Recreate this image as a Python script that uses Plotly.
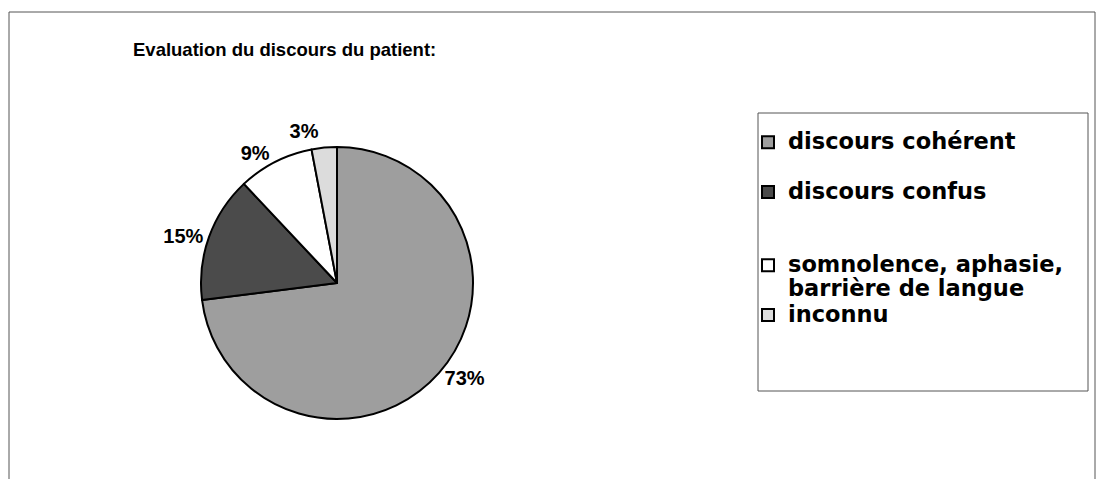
import plotly.graph_objects as go

# ---- data ----
categories = ["discours cohérent", "discours confus",
              "somnolence, aphasie, barrière de langue", "inconnu"]
# the third category is written on two lines in the legend
category_lines = [["discours cohérent"], ["discours confus"],
                  ["somnolence, aphasie,", "barrière de langue"], ["inconnu"]]
values = [73, 15, 9, 3]
# blank lines after each legend entry (spacing of the original legend)
legend_blank_lines = [1, 2, 0, 0]
slice_colors = ["#9e9e9e", "#4b4b4b", "#ffffff", "#dcdcdc"]
title_text = "Evaluation du discours du patient:"

W, H = 1103, 479
FONT = "Arial, 'Liberation Sans', sans-serif"
LEG_FONT = "'DejaVu Sans', sans-serif"
LEG_SIZE = 22.5

labels = []
for lines, pad in zip(category_lines, legend_blank_lines):
    txt = "<br>".join(f"<span style='font-size:{LEG_SIZE}px'>{ln}</span>" for ln in lines)
    txt += "<br> " * pad
    labels.append(txt)

fig = go.Figure()
fig.add_trace(go.Pie(
    labels=labels,
    values=values,
    sort=False,
    direction="clockwise",
    rotation=0,
    marker=dict(colors=slice_colors, line=dict(color="#000000", width=2)),
    textinfo="percent",
    texttemplate="<span style='color:#000000;fill-opacity:1'>%{percent:.0%}</span>",
    textposition="outside",
    outsidetextfont=dict(family=FONT, size=20, color="rgba(0,0,0,0)", weight="bold"),
    domain=dict(x=[201 / W, 473 / W], y=[(H - 419) / H, (H - 147) / H]),
    showlegend=True,
    hoverinfo="percent",
))

# outer chart frame
fig.add_shape(type="rect", xref="paper", yref="paper",
              x0=9 / W, x1=1095 / W, y0=-0.2, y1=(H - 12) / H,
              line=dict(color="#555555", width=1), fillcolor="rgba(0,0,0,0)", layer="below")
# legend frame
fig.add_shape(type="rect", xref="paper", yref="paper",
              x0=758 / W, x1=1088 / W, y0=(H - 391) / H, y1=(H - 113) / H,
              line=dict(color="#555555", width=1), fillcolor="rgba(0,0,0,0)")

fig.update_layout(
    width=W, height=H,
    margin=dict(l=0, r=0, t=0, b=0),
    paper_bgcolor="#ffffff",
    plot_bgcolor="#ffffff",
    title=dict(text=title_text, x=133 / W, xanchor="left", xref="paper",
               y=(H - 50) / H, yanchor="middle", yref="paper",
               font=dict(family=FONT, size=18.5, color="#000000", weight="bold")),
    legend=dict(x=748 / W, xanchor="left", y=(H - 124) / H, yanchor="top",
                font=dict(family=LEG_FONT, size=18, color="#000000", weight="bold"),
                valign="top", bgcolor="rgba(0,0,0,0)", borderwidth=0,
                traceorder="normal"),
)

fig.write_html("out.html", config={"displayModeBar": False},
               post_script="document.body.style.margin='0';")
